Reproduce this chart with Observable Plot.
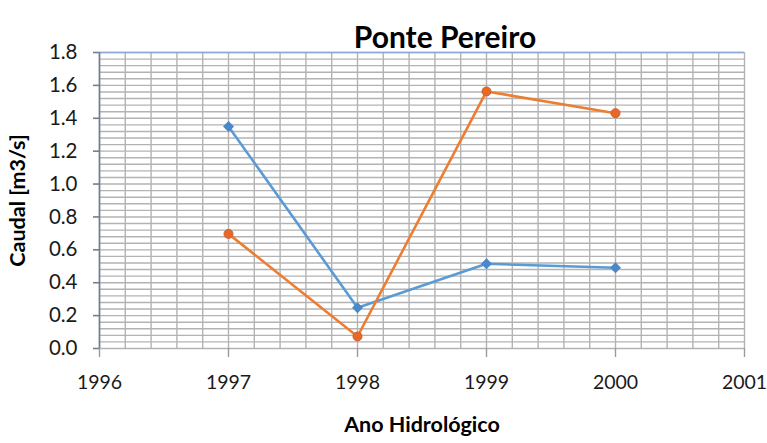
<!DOCTYPE html>
<html>
<head>
<meta charset="utf-8">
<script src="https://cdn.jsdelivr.net/npm/d3@7"></script>
<script src="https://cdn.jsdelivr.net/npm/@observablehq/plot@0.6"></script>
<style>
  html, body { margin: 0; padding: 0; background: #fff; }
  #chart svg { display: block; }
</style>
</head>
<body>
<div id="chart"></div>
<script>
const title = "Ponte Pereiro";
const xLabel = "Ano Hidrológico";
const yLabel = "Caudal [m3/s]";
const years = [1997, 1998, 1999, 2000];
const seriesBlue = [1.35, 0.248, 0.515, 0.491];
const seriesOrange = [0.697, 0.073, 1.563, 1.431];
const xTicks = [1996, 1997, 1998, 1999, 2000, 2001];
const yTicks = [0, 0.2, 0.4, 0.6, 0.8, 1.0, 1.2, 1.4, 1.6, 1.8];
const xMinorGrid = d3.range(0, 26).map(i => 1996 + i * 0.2);
const yMinorGrid = d3.range(0, 46).map(i => i * 0.04);

const blue = years.map((x, i) => ({x, y: seriesBlue[i]}));
const orange = years.map((x, i) => ({x, y: seriesOrange[i]}));

const font = "Lato, 'Open Sans', sans-serif";

const chart = Plot.plot({
  width: 767,
  height: 443,
  marginLeft: 99,
  marginRight: 23,
  marginTop: 52,
  marginBottom: 95,
  style: {fontFamily: font, background: "#fff", overflow: "visible"},
  x: {domain: [1996, 2001]},
  y: {domain: [0, 1.8]},
  marks: [
    Plot.ruleX(xMinorGrid, {stroke: "#b3b3b3", strokeWidth: 1.4}),
    Plot.ruleY(yMinorGrid, {stroke: "#b3b3b3", strokeWidth: 1.4}),
    Plot.ruleY([1.8], {stroke: "#8eaad6", strokeWidth: 1.6}),
    Plot.ruleX([1996], {stroke: "#6f7f98", strokeWidth: 1.6}),
    Plot.axisY({ticks: yTicks, tickFormat: d3.format(".1f"), tickSize: 6, tickPadding: 16,
      stroke: "#6f7f98", strokeWidth: 1.6, fontSize: 20.5, fill: "#1a1a1a", label: null}),
    Plot.axisX({ticks: xTicks, tickFormat: d3.format("d"), tickSize: 9, tickPadding: 18,
      stroke: "#9a9a9a", strokeWidth: 1.4, fontSize: 19.5, fill: "#1a1a1a", label: null}),
    Plot.line(blue, {x: "x", y: "y", stroke: "#5b9bd5", strokeWidth: 2.6}),
    Plot.dot(blue, {x: "x", y: "y", symbol: "diamond2", fill: "#4a88cc", stroke: "#4a88cc", r: 4}),
    Plot.line(orange, {x: "x", y: "y", stroke: "#ed7d31", strokeWidth: 2.6}),
    Plot.dot(orange, {x: "x", y: "y", symbol: "circle", fill: "#e46a24", stroke: "#d9593a", strokeWidth: 1, r: 4.5}),
    Plot.text([title], {frameAnchor: "top", dx: 23, dy: -26, fontSize: 30, fontWeight: "bold", fill: "#000", text: d => d}),
    Plot.text([xLabel], {frameAnchor: "bottom", dy: 83, fontSize: 21.5, fontWeight: "bold", fill: "#000", text: d => d}),
    Plot.text([yLabel], {frameAnchor: "left", dx: -81, rotate: -90, textAnchor: "middle", fontSize: 21.5, fontWeight: "bold", fill: "#000", text: d => d})
  ]
});
document.getElementById("chart").appendChild(chart);
</script>
</body>
</html>
